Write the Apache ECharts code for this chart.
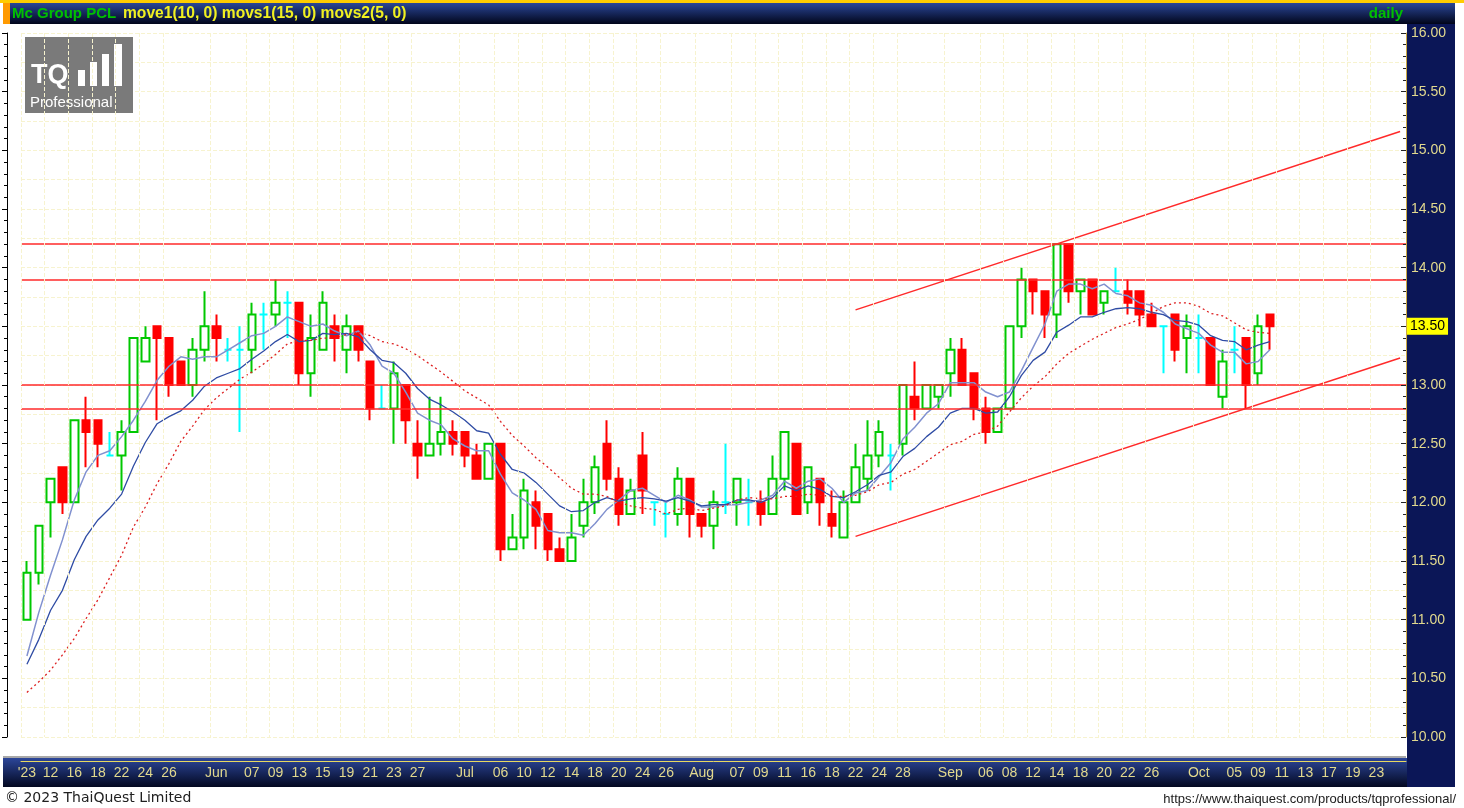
<!DOCTYPE html>
<html>
<head>
<meta charset="utf-8">
<title>Mc Group PCL daily</title>
<script src="https://cdn.jsdelivr.net/npm/echarts@6/dist/echarts.min.js"></script>
<style>
  html, body { margin: 0; padding: 0; background: #ffffff; }
  #chart { width: 1464px; height: 808px; }
</style>
</head>
<body>
<div id="chart"></div>
<script>
// ─── Data (2023 trading days) ─────────────────────────────────

const dates = [
  "05-10", "05-11", "05-12", "05-15", "05-16", "05-17", "05-18", "05-19", "05-22", "05-23",
  "05-24", "05-25", "05-26", "05-29", "05-30", "05-31",
  "06-01", "06-02", "06-06", "06-07", "06-08", "06-09", "06-12", "06-13", "06-14", "06-15",
  "06-16", "06-19", "06-20", "06-21", "06-22", "06-23", "06-26", "06-27", "06-28", "06-29", "06-30",
  "07-03", "07-04", "07-05", "07-06", "07-07", "07-10", "07-11", "07-12", "07-13", "07-14",
  "07-17", "07-18", "07-19", "07-20", "07-21", "07-24", "07-25", "07-26", "07-27", "07-31",
  "08-02", "08-03", "08-04", "08-07", "08-08", "08-09", "08-10", "08-11", "08-15", "08-16",
  "08-17", "08-18", "08-21", "08-22", "08-23", "08-24", "08-25", "08-28", "08-29", "08-30", "08-31",
  "09-01", "09-04", "09-05", "09-06", "09-07", "09-08", "09-11", "09-12", "09-13", "09-14",
  "09-15", "09-18", "09-19", "09-20", "09-21", "09-22", "09-25", "09-26", "09-27", "09-28", "09-29",
  "10-02", "10-03", "10-04", "10-05", "10-06", "10-09", "10-10",
  // future slots to the right of the last bar
  "10-11", "10-12", "10-13", "10-16", "10-17", "10-18", "10-19", "10-20", "10-23", "10-24", "10-25",
];

// date → label shown on the time axis
const tickLabels = {
  "05-10": "'23", "05-12": "12", "05-16": "16", "05-18": "18", "05-22": "22", "05-24": "24", "05-26": "26",
  "06-01": "Jun", "06-07": "07", "06-09": "09", "06-13": "13", "06-15": "15", "06-19": "19",
  "06-21": "21", "06-23": "23", "06-27": "27",
  "07-03": "Jul", "07-06": "06", "07-10": "10", "07-12": "12", "07-14": "14", "07-18": "18",
  "07-20": "20", "07-24": "24", "07-26": "26",
  "08-02": "Aug", "08-07": "07", "08-09": "09", "08-11": "11", "08-16": "16", "08-18": "18",
  "08-22": "22", "08-24": "24", "08-28": "28",
  "09-01": "Sep", "09-06": "06", "09-08": "08", "09-12": "12", "09-14": "14", "09-18": "18",
  "09-20": "20", "09-22": "22", "09-26": "26",
  "10-02": "Oct", "10-05": "05", "10-09": "09", "10-11": "11", "10-13": "13", "10-17": "17",
  "10-19": "19", "10-23": "23",
};

const opens = [
  11.0, 11.4, 12.0, 12.3, 12.0, 12.7, 12.7, 12.4, 12.4, 12.6,
  13.2, 13.5, 13.4, 13.2, 13.0, 13.3, 13.5, 13.3, 13.3, 13.3,
  13.6, 13.6, 13.7, 13.7, 13.1, 13.3, 13.5, 13.3, 13.5, 13.2,
  12.8, 12.8, 13.0, 12.5, 12.4, 12.5, 12.6, 12.6, 12.4, 12.2,
  12.5, 11.6, 11.7, 12.0, 11.9, 11.6, 11.5, 11.8, 12.0, 12.5,
  12.2, 11.9, 12.4, 12.0, 11.9, 11.9, 12.2, 11.9, 11.8, 12.0,
  12.0, 12.0, 12.0, 11.9, 12.2, 12.5, 12.0, 12.2, 11.9, 11.7,
  12.0, 12.2, 12.4, 12.4, 12.5, 12.9, 12.8, 12.9, 13.1, 13.3,
  13.1, 12.8, 12.6, 12.8, 13.5, 13.9, 13.8, 13.6, 14.2, 13.8,
  13.9, 13.7, 13.8, 13.8, 13.8, 13.6, 13.5, 13.6, 13.4, 13.4,
  13.4, 12.9, 13.3, 13.4, 13.1, 13.6,
];
const closes = [
  11.4, 11.8, 12.2, 12.0, 12.7, 12.6, 12.5, 12.4, 12.6, 13.4,
  13.4, 13.4, 13.0, 13.0, 13.3, 13.5, 13.4, 13.3, 13.3, 13.6,
  13.6, 13.7, 13.7, 13.1, 13.4, 13.7, 13.4, 13.5, 13.3, 12.8,
  12.8, 13.1, 12.7, 12.4, 12.5, 12.6, 12.5, 12.4, 12.2, 12.5,
  11.6, 11.7, 12.1, 11.8, 11.6, 11.5, 11.7, 12.0, 12.3, 12.2,
  11.9, 12.1, 12.1, 12.0, 11.9, 12.2, 11.9, 11.8, 12.0, 12.0,
  12.2, 12.0, 11.9, 12.2, 12.6, 11.9, 12.3, 12.0, 11.8, 12.0,
  12.3, 12.4, 12.6, 12.4, 13.0, 12.8, 13.0, 13.0, 13.3, 13.0,
  12.8, 12.6, 12.8, 13.5, 13.9, 13.8, 13.6, 14.2, 13.8, 13.9,
  13.6, 13.8, 13.8, 13.7, 13.6, 13.5, 13.5, 13.3, 13.5, 13.4,
  13.0, 13.2, 13.3, 13.0, 13.5, 13.5,
];
const lows = [
  11.0, 11.3, 11.7, 11.9, 12.0, 12.3, 12.3, 12.4, 12.1, 12.6,
  13.2, 12.7, 12.9, 13.0, 12.9, 13.2, 13.2, 13.2, 12.6, 13.1,
  13.3, 13.5, 13.4, 13.0, 12.9, 13.3, 13.2, 13.1, 13.2, 12.7,
  12.8, 12.5, 12.5, 12.2, 12.4, 12.4, 12.4, 12.3, 12.2, 12.2,
  11.5, 11.6, 11.6, 11.6, 11.5, 11.5, 11.5, 11.7, 11.9, 12.1,
  11.8, 11.9, 11.9, 11.8, 11.7, 11.8, 11.7, 11.7, 11.6, 11.9,
  11.8, 11.8, 11.8, 11.9, 12.1, 11.9, 11.9, 11.8, 11.7, 11.7,
  12.0, 12.1, 12.3, 12.1, 12.4, 12.7, 12.8, 12.8, 12.9, 13.0,
  12.7, 12.5, 12.6, 12.8, 13.4, 13.6, 13.4, 13.4, 13.7, 13.6,
  13.6, 13.6, 13.8, 13.6, 13.5, 13.5, 13.1, 13.2, 13.1, 13.1,
  13.0, 12.8, 13.1, 12.8, 13.0, 13.3,
];
const highs = [
  11.5, 11.8, 12.2, 12.3, 12.7, 12.9, 12.7, 12.6, 12.7, 13.4,
  13.5, 13.5, 13.4, 13.2, 13.4, 13.8, 13.6, 13.4, 13.5, 13.7,
  13.7, 13.9, 13.8, 13.7, 13.6, 13.8, 13.6, 13.6, 13.5, 13.2,
  13.0, 13.2, 13.0, 12.7, 12.9, 12.9, 12.7, 12.6, 12.5, 12.5,
  12.5, 11.9, 12.2, 12.1, 11.9, 11.7, 11.9, 12.2, 12.4, 12.7,
  12.3, 12.2, 12.6, 12.0, 12.0, 12.3, 12.2, 11.9, 12.1, 12.5,
  12.2, 12.2, 12.1, 12.4, 12.6, 12.5, 12.3, 12.2, 12.1, 12.1,
  12.5, 12.7, 12.7, 12.5, 13.0, 13.2, 13.0, 13.0, 13.4, 13.4,
  13.1, 12.9, 12.8, 13.5, 14.0, 13.9, 13.8, 14.2, 14.2, 13.9,
  13.9, 13.8, 14.0, 13.9, 13.8, 13.7, 13.5, 13.6, 13.6, 13.6,
  13.4, 13.3, 13.5, 13.4, 13.6, 13.6,
];

// movs2(5,0) — light line
const movs2 = [
  10.69, 11.06, 11.38, 11.68, 12.02, 12.26, 12.40, 12.44, 12.56, 12.70,
  12.86, 13.04, 13.16, 13.24, 13.22, 13.24, 13.24, 13.30, 13.36, 13.42,
  13.44, 13.50, 13.58, 13.54, 13.50, 13.52, 13.46, 13.42, 13.46, 13.34,
  13.16, 13.10, 12.94, 12.76, 12.70, 12.66, 12.54, 12.48, 12.44, 12.44,
  12.24, 12.08, 12.02, 11.94, 11.76, 11.74, 11.74, 11.72, 11.82, 11.94,
  12.02, 12.10, 12.12, 12.06, 12.00, 12.06, 12.02, 11.96, 11.96, 11.98,
  11.98, 12.00, 12.02, 12.06, 12.18, 12.12, 12.18, 12.20, 12.12, 12.00,
  12.08, 12.10, 12.22, 12.34, 12.54, 12.64, 12.76, 12.84, 13.02, 13.02,
  13.02, 12.94, 12.90, 12.94, 13.12, 13.32, 13.52, 13.80, 13.86, 13.86,
  13.82, 13.86, 13.78, 13.76, 13.70, 13.68, 13.62, 13.52, 13.48, 13.44,
  13.34, 13.28, 13.28, 13.18, 13.20, 13.30,
];
// move1(10,0) — dark blue line
const move1 = [
  10.62, 10.83, 11.08, 11.25, 11.51, 11.71, 11.85, 11.95, 12.07, 12.31,
  12.51, 12.67, 12.73, 12.78, 12.87, 12.99, 13.06, 13.10, 13.14, 13.22,
  13.29, 13.37, 13.43, 13.37, 13.38, 13.44, 13.43, 13.44, 13.41, 13.30,
  13.21, 13.19, 13.10, 12.97, 12.88, 12.83, 12.77, 12.70, 12.61, 12.59,
  12.41, 12.28, 12.25, 12.17, 12.07, 11.97, 11.92, 11.93, 12.00, 12.04,
  12.01, 12.03, 12.04, 12.03, 12.01, 12.04, 12.01, 11.97, 11.98, 11.98,
  12.02, 12.02, 12.00, 12.04, 12.14, 12.10, 12.14, 12.11, 12.05, 12.04,
  12.09, 12.15, 12.23, 12.26, 12.39, 12.46, 12.56, 12.64, 12.76, 12.80,
  12.80, 12.76, 12.77, 12.90, 13.08, 13.21, 13.28, 13.45, 13.51, 13.58,
  13.58, 13.62, 13.65, 13.66, 13.65, 13.62, 13.60, 13.55, 13.54, 13.51,
  13.42, 13.38, 13.37, 13.30, 13.34, 13.37,
];
// movs1(15,0) — red dotted line
const movs1 = [
  10.38, 10.47, 10.57, 10.70, 10.84, 11.01, 11.17, 11.36, 11.55, 11.79,
  11.96, 12.16, 12.33, 12.52, 12.65, 12.79, 12.89, 12.97, 13.05, 13.11,
  13.18, 13.26, 13.35, 13.38, 13.38, 13.40, 13.40, 13.43, 13.45, 13.42,
  13.37, 13.35, 13.31, 13.25, 13.18, 13.11, 13.03, 12.95, 12.89, 12.83,
  12.69, 12.57, 12.48, 12.38, 12.30, 12.21, 12.12, 12.07, 12.07, 12.05,
  12.00, 11.97, 11.95, 11.94, 11.90, 11.94, 11.95, 11.93, 11.95, 11.97,
  12.02, 12.04, 12.03, 12.03, 12.05, 12.05, 12.07, 12.06, 12.05, 12.05,
  12.06, 12.09, 12.15, 12.17, 12.24, 12.28, 12.35, 12.42, 12.49, 12.52,
  12.58, 12.60, 12.65, 12.77, 12.89, 12.99, 13.07, 13.18, 13.27, 13.33,
  13.39, 13.44, 13.49, 13.52, 13.56, 13.61, 13.67, 13.70, 13.70, 13.67,
  13.61, 13.59, 13.53, 13.47, 13.45, 13.44,
];

// drawn support/resistance levels and the rising channel
const levels = [14.2, 13.9, 13.0, 12.8];
const channelTop = [["08-22", 13.64], ["10-25", 15.16]];
const channelBottom = [["08-22", 11.71], ["10-25", 13.23]];
const lastPrice = 13.5;

// ─── Styles ───────────────────────────────────────────────────

const FONT = '"Liberation Sans", Arial, sans-serif';
const UP = "#00c800";
const DOWN = "#ff0000";
const DOJI = "#00ffff";
const LEVEL = "#ff2a2a";
const AXIS_TEXT = "#e2d98e";

const navyV = (top, bottom) => new echarts.graphic.LinearGradient(0, 0, 0, 1, [
  { offset: 0, color: top },
  { offset: 1, color: bottom },
]);

const hasLabel = (i, value) => value in tickLabels;

// ─── Chart ────────────────────────────────────────────────────

const candles = opens.map((o, i) => {
  const value = [o, closes[i], lows[i], highs[i]];
  if (o !== closes[i]) return value;
  return {
    value,
    itemStyle: { color: DOJI, color0: DOJI, borderColor: DOJI, borderColor0: DOJI },
  };
});

const chart = echarts.init(document.getElementById("chart"), null, { renderer: "canvas" });

chart.setOption({
  animation: false,
  backgroundColor: "#ffffff",
  textStyle: { fontFamily: FONT },
  grid: { left: 21, right: 58, top: 33, bottom: 71 },
  xAxis: {
    type: "category",
    data: dates,
    boundaryGap: true,
    offset: 24,
    z: 10,
    axisLine: { lineStyle: { color: "#e8d860", width: 1 } },
    axisTick: { alignWithLabel: true, interval: hasLabel, length: 3, lineStyle: { color: "#e8d860" } },
    axisLabel: {
      interval: hasLabel,
      formatter: (v) => tickLabels[v] || "",
      color: AXIS_TEXT,
      fontSize: 14,
      margin: 5,
    },
    splitLine: { show: true, interval: hasLabel, lineStyle: { color: "#f7f3cf", type: "dashed" } },
  },
  yAxis: [
    {
      type: "value",
      position: "right",
      min: 10,
      max: 16,
      interval: 0.5,
      z: 10,
      axisLine: { show: true, lineStyle: { color: "#c9a846" } },
      axisTick: { show: true, inside: true, length: 5, lineStyle: { color: "#222" } },
      minorTick: { show: true, splitNumber: 5, length: 3, lineStyle: { color: "#222" } },
      axisLabel: { color: AXIS_TEXT, fontSize: 14, margin: 5, formatter: (v) => v.toFixed(2) },
      splitLine: { show: false },
    },
    {
      type: "value",
      position: "left",
      min: 10,
      max: 16,
      interval: 0.5,
      offset: 14,
      z: 10,
      axisLine: { show: true, lineStyle: { color: "#000" } },
      axisTick: { show: true, length: 5, lineStyle: { color: "#000" } },
      minorTick: { show: true, splitNumber: 5, length: 3, lineStyle: { color: "#000" } },
      axisLabel: { show: false },
      splitLine: { show: false },
    },
    {
      // faint quarter-point grid
      type: "value",
      min: 10,
      max: 16,
      interval: 0.25,
      axisLine: { show: false },
      axisTick: { show: false },
      axisLabel: { show: false },
      splitLine: { show: true, lineStyle: { color: "#f7f3cf", type: "dashed" } },
    },
  ],
  series: [
    {
      name: "Mc Group PCL",
      type: "candlestick",
      data: candles,
      barWidth: 8,
      itemStyle: {
        color: "#ffffff",
        color0: DOWN,
        borderColor: UP,
        borderColor0: DOWN,
        borderWidth: 2,
      },
      markLine: {
        silent: true,
        symbol: ["none", "none"],
        label: { show: false },
        lineStyle: { color: LEVEL, width: 1.5, type: "solid" },
        data: [
          ...levels.map((v) => ({ yAxis: v })),
          channelTop.map((c) => ({ coord: c })),
          channelBottom.map((c) => ({ coord: c })),
        ],
      },
    },
    {
      name: "movs2(5, 0)",
      type: "line",
      data: movs2,
      showSymbol: false,
      lineStyle: { color: "#8191cf", width: 1.5 },
      z: 3,
    },
    {
      name: "move1(10, 0)",
      type: "line",
      data: move1,
      showSymbol: false,
      lineStyle: { color: "#2f4ca4", width: 1.3 },
      z: 3,
    },
    {
      name: "movs1(15, 0)",
      type: "line",
      data: movs1,
      showSymbol: false,
      lineStyle: { color: "#dd1f1f", width: 1.3, type: [2, 3] },
      z: 3,
      // last-price tag on the price scale
      markLine: {
        silent: true,
        symbol: ["none", "none"],
        z: 20,
        lineStyle: { color: "rgba(0,0,0,0)", width: 0 },
        data: [{ yAxis: lastPrice }],
        label: {
          show: true,
          position: "end",
          distance: 1,
          formatter: lastPrice.toFixed(2),
          backgroundColor: "#ffff00",
          color: "#000",
          fontSize: 14,
          fontFamily: FONT,
          padding: [2, 3, 1, 3],
        },
      },
    },
  ],
  graphic: [
    // header bar
    { type: "rect", z: 1, shape: { x: 0, y: 0, width: 1464, height: 3 }, style: { fill: "#ffcc00" } },
    { type: "rect", z: 1, shape: { x: 3, y: 3, width: 1452, height: 21 }, style: { fill: navyV("#2a4697", "#01051a") } },
    { type: "rect", z: 1, shape: { x: 3, y: 3, width: 7, height: 21 }, style: { fill: "#ff9a00" } },
    {
      type: "text", z: 2, x: 12, y: 14,
      style: { text: "Mc Group PCL", fill: "#00c000", font: `bold 15px ${FONT}`, verticalAlign: "middle" },
    },
    {
      type: "text", z: 2, x: 123, y: 14,
      style: { text: "move1(10, 0) movs1(15, 0) movs2(5, 0)", fill: "#f0f020", font: `bold 15.6px ${FONT}`, verticalAlign: "middle" },
    },
    {
      type: "text", z: 2, x: 1403, y: 14,
      style: { text: "daily", fill: "#00c000", font: `bold 15px ${FONT}`, align: "right", verticalAlign: "middle" },
    },
    // price scale panel
    { type: "rect", z: 0, shape: { x: 1407, y: 24, width: 48, height: 763 }, style: { fill: "#0b1657" } },
    // time axis band
    { type: "rect", z: 1, shape: { x: 3, y: 756, width: 1403, height: 2 }, style: { fill: "#a8a8a8" } },
    { type: "rect", z: 1, shape: { x: 3, y: 758, width: 1404, height: 29 }, style: { fill: navyV("#2c4699", "#030820") } },
    // logo
    { type: "rect", z: 1, shape: { x: 25, y: 37, width: 108, height: 76 }, style: { fill: "#7a7a7a" } },
    {
      type: "text", z: 2, x: 31, y: 76,
      style: { text: "TQ", fill: "#ffffff", font: `bold 27px ${FONT}`, verticalAlign: "middle" },
    },
    { type: "rect", z: 2, shape: { x: 78, y: 70, width: 7, height: 16 }, style: { fill: "#ffffff" } },
    { type: "rect", z: 2, shape: { x: 90, y: 62, width: 7, height: 24 }, style: { fill: "#ffffff" } },
    { type: "rect", z: 2, shape: { x: 102, y: 54, width: 7, height: 32 }, style: { fill: "#ffffff" } },
    { type: "rect", z: 2, shape: { x: 114, y: 44, width: 8, height: 42 }, style: { fill: "#ffffff" } },
    {
      type: "text", z: 2, x: 30, y: 103,
      style: { text: "Professional", fill: "#ffffff", font: `15px ${FONT}`, verticalAlign: "middle" },
    },
    // footer
    {
      type: "text", z: 2, x: 5, y: 798,
      style: { text: "© 2023 ThaiQuest Limited", fill: "#202020", font: '14px "DejaVu Sans", sans-serif', verticalAlign: "middle" },
    },
    {
      type: "text", z: 2, x: 1456, y: 799,
      style: { text: "https://www.thaiquest.com/products/tqprofessional/", fill: "#202020", font: `13px ${FONT}`, align: "right", verticalAlign: "middle" },
    },
  ],
});
</script>
</body>
</html>
